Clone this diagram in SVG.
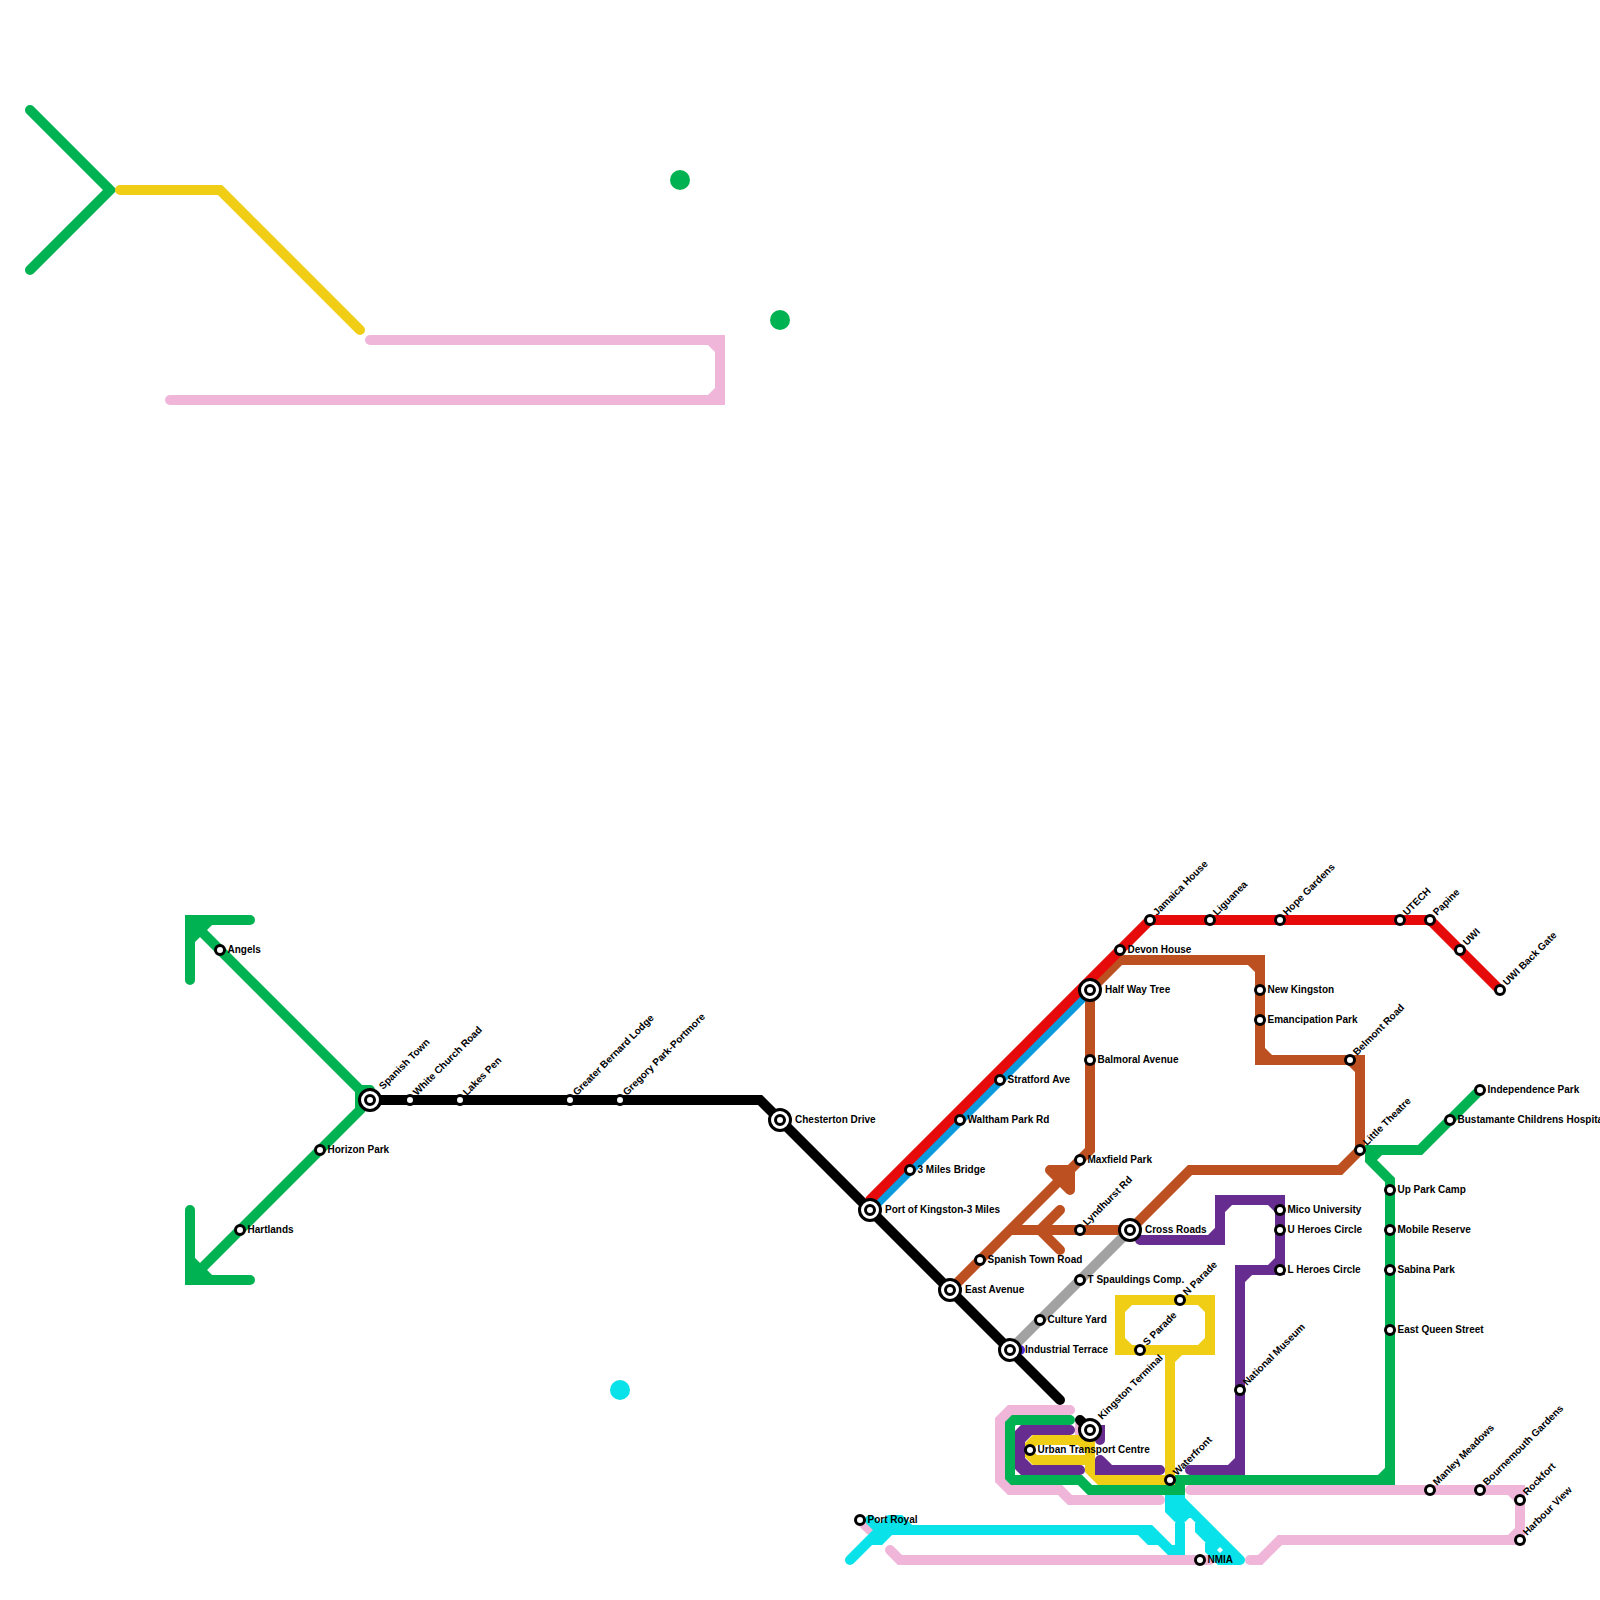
<svg xmlns="http://www.w3.org/2000/svg" width="1600" height="1600" viewBox="0 0 1600 1600">
<defs>
<style>
.l{fill:none;stroke-width:10;stroke-linecap:round;stroke-linejoin:miter;stroke-miterlimit:8}
.pink{stroke:#f0b6d9}.green{stroke:#00b251}.yellow{stroke:#f0ce15}.black{stroke:#000}.cyan{stroke:#08e2e8}
.purple{stroke:#662c90}.brown{stroke:#bd5021}.grey{stroke:#a2a2a2}.blue{stroke:#0b9bdc}.red{stroke:#e60a0a}.violet{stroke:#4a2bd0}
.s{fill:#fff;stroke:#000;stroke-width:3}
.o{fill:#fff;stroke:#000;stroke-width:3}
text{font-family:"Liberation Sans",Arial,sans-serif;font-size:10px;font-weight:700;fill:#000}
</style>
<circle id="st" r="4.5" class="s"/>
<g id="ic"><circle r="10.5" class="o"/><circle r="4.5" class="s"/></g>
</defs>
<rect width="1600" height="1600" fill="#fff"/>
<g id="connectors">
<path class="l pink" d="M370 340H720V400H170M710 340L720 350M720 390L710 400"/>
<path class="l pink" d="M1070 1410H1010L1000 1420V1480L1010 1490H1060L1070 1500H1160M1080 1425V1435M1005 1420L1010 1415M1005 1480L1010 1485"/>
<path class="l pink" d="M1190 1490H1520V1540H1280L1260 1560H1250M1510 1490L1520 1500M1520 1530L1510 1540"/>
<path class="l pink" d="M890 1550L900 1560H1210M860 1520L870 1530"/>
<path class="l cyan" d="M850 1560L870 1540H880L890 1530H1150L1170 1550H1180V1490H1170V1510L1180 1520L1190 1510M1170 1490L1240 1560M1240 1560H1220L1210 1550V1540L1200 1530V1520M1140 1530L1150 1540H1160L1170 1550M870 1520L880 1530L890 1520H900L910 1530M870 1540L880 1530"/>
<path d="M1212 1538L1232 1552L1226 1558L1212 1556Z" fill="#08e2e8"/>
<path d="M1220 1547L1223 1550L1220 1553L1217 1550Z" fill="#fff"/>
<path class="l green" d="M30 110L110 190L30 270"/>
<path class="l green" d="M190 980V920H250M210 920L190 940M190 920L360 1090H370M360 1090V1110L190 1280M190 1210V1280H250M190 1260L210 1280"/>
<path class="l green" d="M1070 1420H1014L1010 1424V1477L1013 1480H1080L1090 1490H1180V1480H1390V1180L1370 1160V1150H1420L1480 1090M1380 1480L1390 1470M1370 1160L1380 1150"/>
<path class="l yellow" d="M120 190H220L360 330"/>
<path class="l yellow" d="M1120 1300H1210V1350H1120ZM1120 1310L1130 1300M1200 1300L1210 1310M1210 1340L1200 1350M1130 1350L1120 1340M1170 1350V1480H1100L1090 1470V1440H1035L1030 1445V1455L1035 1460H1090M1170 1360L1180 1350M1080 1440L1090 1450"/>
<path class="l purple" d="M1140 1240H1220V1200H1280V1270H1240V1470H1190M1210 1240L1220 1230M1220 1210L1230 1200M1270 1200L1280 1210M1280 1260L1270 1270M1250 1270L1240 1280M1240 1460L1230 1470"/>
<path class="l purple" d="M1070 1430H1023L1020 1433V1467L1023 1470H1080M1020 1440L1030 1430M1020 1460L1030 1470M1090 1430H1100V1440M1100 1460V1470H1160M1100 1460L1110 1470"/>
<path class="l brown" d="M950 1290L1090 1150V990L1120 960H1260V1060H1360V1150L1340 1170H1190L1130 1230H1010M1250 960L1260 970M1260 1050L1270 1060M1350 1060L1360 1070"/>
<path class="l brown" d="M1050 1170H1070V1190M1050 1170L1070 1190M1060 1210L1040 1230L1060 1250"/>
<path class="l black" d="M370 1100H760L1060 1400M1080 1420L1090 1430"/>
<path class="l grey" d="M1010 1350L1130 1230"/>
<path class="l violet" d="M1010 1350H1020"/>
<path class="l blue" d="M870 1210L1090 990"/>
<path class="l red" d="M870 1200L1150 920H1430L1500 990"/>
</g>
<g id="dot1"><circle cx="680" cy="180" r="10" fill="#00b251"/></g>
<g id="dot2"><circle cx="780" cy="320" r="10" fill="#00b251"/></g>
<g id="dot3"><circle cx="620" cy="1390" r="10" fill="#08e2e8"/></g>
<g id="angels"><use href="#st" x="220" y="950"/><text x="227.5" y="953">Angels</text></g>
<g id="horizon-park"><use href="#st" x="320" y="1150"/><text x="327.5" y="1153">Horizon Park</text></g>
<g id="hartlands"><use href="#st" x="240" y="1230"/><text x="247.5" y="1233">Hartlands</text></g>
<g id="spanish-town"><use href="#ic" x="370" y="1100"/><text transform="translate(383 1090) rotate(-45)">Spanish Town</text></g>
<g id="white-church-road"><use href="#st" x="410" y="1100"/><text transform="translate(417 1096) rotate(-45)">White Church Road</text></g>
<g id="lakes-pen"><use href="#st" x="460" y="1100"/><text transform="translate(467 1096) rotate(-45)">Lakes Pen</text></g>
<g id="greater-bernard-lodge"><use href="#st" x="570" y="1100"/><text transform="translate(577 1096) rotate(-45)">Greater Bernard Lodge</text></g>
<g id="gregory-park"><use href="#st" x="620" y="1100"/><text transform="translate(627 1096) rotate(-45)">Gregory Park-Portmore</text></g>
<g id="chesterton-drive"><use href="#ic" x="780" y="1120"/><text x="795" y="1123">Chesterton Drive</text></g>
<g id="port-of-kingston"><use href="#ic" x="870" y="1210"/><text x="885" y="1213">Port of Kingston-3 Miles</text></g>
<g id="three-miles"><use href="#st" x="910" y="1170"/><text x="917.5" y="1173">3 Miles Bridge</text></g>
<g id="waltham"><use href="#st" x="960" y="1120"/><text x="967.5" y="1123">Waltham Park Rd</text></g>
<g id="stratford"><use href="#st" x="1000" y="1080"/><text x="1007.5" y="1083">Stratford Ave</text></g>
<g id="half-way-tree"><use href="#ic" x="1090" y="990"/><text x="1105" y="993">Half Way Tree</text></g>
<g id="devon-house"><use href="#st" x="1120" y="950"/><text x="1127.5" y="953">Devon House</text></g>
<g id="jamaica-house"><use href="#st" x="1150" y="920"/><text transform="translate(1157 916) rotate(-45)">Jamaica House</text></g>
<g id="liguanea"><use href="#st" x="1210" y="920"/><text transform="translate(1217 916) rotate(-45)">Liguanea</text></g>
<g id="hope-gardens"><use href="#st" x="1280" y="920"/><text transform="translate(1287 916) rotate(-45)">Hope Gardens</text></g>
<g id="utech"><use href="#st" x="1400" y="920"/><text transform="translate(1407 916) rotate(-45)">UTECH</text></g>
<g id="papine"><use href="#st" x="1430" y="920"/><text transform="translate(1437 916) rotate(-45)">Papine</text></g>
<g id="uwi"><use href="#st" x="1460" y="950"/><text transform="translate(1467 946) rotate(-45)">UWI</text></g>
<g id="uwi-back-gate"><use href="#st" x="1500" y="990"/><text transform="translate(1507 986) rotate(-45)">UWI Back Gate</text></g>
<g id="new-kingston"><use href="#st" x="1260" y="990"/><text x="1267.5" y="993">New Kingston</text></g>
<g id="emancipation-park"><use href="#st" x="1260" y="1020"/><text x="1267.5" y="1023">Emancipation Park</text></g>
<g id="belmont-road"><use href="#st" x="1350" y="1060"/><text transform="translate(1357 1056) rotate(-45)">Belmont Road</text></g>
<g id="little-theatre"><use href="#st" x="1360" y="1150"/><text transform="translate(1367 1146) rotate(-45)">Little Theatre</text></g>
<g id="balmoral"><use href="#st" x="1090" y="1060"/><text x="1097.5" y="1063">Balmoral Avenue</text></g>
<g id="maxfield"><use href="#st" x="1080" y="1160"/><text x="1087.5" y="1163">Maxfield Park</text></g>
<g id="lyndhurst"><use href="#st" x="1080" y="1230"/><text transform="translate(1087 1226) rotate(-45)">Lyndhurst Rd</text></g>
<g id="cross-roads"><use href="#ic" x="1130" y="1230"/><text x="1145" y="1233">Cross Roads</text></g>
<g id="spanish-town-road"><use href="#st" x="980" y="1260"/><text x="987.5" y="1263">Spanish Town Road</text></g>
<g id="east-avenue"><use href="#ic" x="950" y="1290"/><text x="965" y="1293">East Avenue</text></g>
<g id="t-spauldings"><use href="#st" x="1080" y="1280"/><text x="1087.5" y="1283">T Spauldings Comp.</text></g>
<g id="culture-yard"><use href="#st" x="1040" y="1320"/><text x="1047.5" y="1323">Culture Yard</text></g>
<g id="industrial-terrace"><use href="#ic" x="1010" y="1350"/><text x="1025" y="1353">Industrial Terrace</text></g>
<g id="n-parade"><use href="#st" x="1180" y="1300"/><text transform="translate(1187 1296) rotate(-45)">N Parade</text></g>
<g id="s-parade"><use href="#st" x="1140" y="1350"/><text transform="translate(1147 1346) rotate(-45)">S Parade</text></g>
<g id="kingston-terminal"><use href="#ic" x="1090" y="1430"/><text transform="translate(1102 1420) rotate(-45)">Kingston Terminal</text></g>
<g id="urban-transport"><use href="#st" x="1030" y="1450"/><text x="1037.5" y="1453">Urban Transport Centre</text></g>
<g id="waterfront"><use href="#st" x="1170" y="1480"/><text transform="translate(1177 1476) rotate(-45)">Waterfront</text></g>
<g id="national-museum"><use href="#st" x="1240" y="1390"/><text transform="translate(1247 1386) rotate(-45)">National Museum</text></g>
<g id="mico"><use href="#st" x="1280" y="1210"/><text x="1287.5" y="1213">Mico University</text></g>
<g id="u-heroes"><use href="#st" x="1280" y="1230"/><text x="1287.5" y="1233">U Heroes Circle</text></g>
<g id="l-heroes"><use href="#st" x="1280" y="1270"/><text x="1287.5" y="1273">L Heroes Circle</text></g>
<g id="up-park-camp"><use href="#st" x="1390" y="1190"/><text x="1397.5" y="1193">Up Park Camp</text></g>
<g id="mobile-reserve"><use href="#st" x="1390" y="1230"/><text x="1397.5" y="1233">Mobile Reserve</text></g>
<g id="sabina-park"><use href="#st" x="1390" y="1270"/><text x="1397.5" y="1273">Sabina Park</text></g>
<g id="east-queen"><use href="#st" x="1390" y="1330"/><text x="1397.5" y="1333">East Queen Street</text></g>
<g id="independence"><use href="#st" x="1480" y="1090"/><text x="1487.5" y="1093">Independence Park</text></g>
<g id="bustamante"><use href="#st" x="1450" y="1120"/><text x="1457.5" y="1123">Bustamante Childrens Hospital</text></g>
<g id="manley"><use href="#st" x="1430" y="1490"/><text transform="translate(1437 1486) rotate(-45)">Manley Meadows</text></g>
<g id="bournemouth"><use href="#st" x="1480" y="1490"/><text transform="translate(1487 1486) rotate(-45)">Bournemouth Gardens</text></g>
<g id="rockfort"><use href="#st" x="1520" y="1500"/><text transform="translate(1527 1496) rotate(-45)">Rockfort</text></g>
<g id="harbour-view"><use href="#st" x="1520" y="1540"/><text transform="translate(1527 1536) rotate(-45)">Harbour View</text></g>
<g id="port-royal"><use href="#st" x="860" y="1520"/><text x="867.5" y="1523">Port Royal</text></g>
<g id="nmia"><use href="#st" x="1200" y="1560"/><text x="1207.5" y="1563">NMIA</text></g>
</svg>
